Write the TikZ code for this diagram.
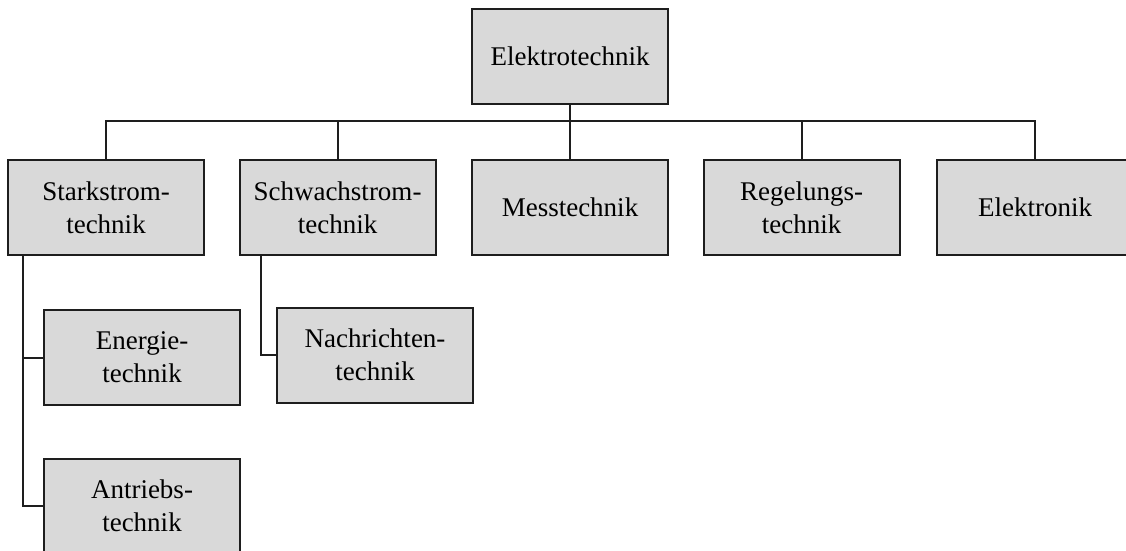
\documentclass[tikz,border=0pt]{standalone}
\usepackage{fontspec}
\setmainfont{Liberation Serif}
\definecolor{boxfill}{RGB}{217,217,217}
\definecolor{ink}{RGB}{30,30,30}
\begin{document}
\begin{tikzpicture}[x=1pt,y=-1pt,
  box/.style={draw=ink, line width=2pt, fill=boxfill, rectangle,
    minimum width=196pt, minimum height=95pt, inner sep=0pt,
    align=center, font=\fontsize{27}{33}\selectfont},
  link/.style={draw=ink, line width=2pt}]
\useasboundingbox (0,0) rectangle (1126,550);

% top level
\node[box] (et) at (570,56.5) {Elektrotechnik};

% second level
\node[box] (st) at (106,207.5) {Starkstrom-\\technik};
\node[box] (sw) at (337.5,207.5) {Schwachstrom-\\technik};
\node[box] (ms) at (570,207.5) {Messtechnik};
\node[box] (rg) at (801.5,207.5) {Regelungs-\\technik};
\node[box] (el) at (1035,207.5) {Elektronik};

% third level
\node[box] (en) at (142,357.5) {Energie-\\technik};
\node[box] (an) at (142,506) {Antriebs-\\technik};
\node[box] (na) at (375,355) {Nachrichten-\\technik};

% bus line under the root
\coordinate (bus) at (570,121);
\draw[link] (et.south) -- (bus);
\draw[link] (st.north) |- (bus) -| (el.north);
\draw[link] (sw.north) -- (sw.north |- bus);
\draw[link] (ms.north) -- (ms.north |- bus);
\draw[link] (rg.north) -- (rg.north |- bus);

% branches below
\coordinate (stdrop) at ([xshift=-83pt]st.south);
\draw[link] (stdrop) |- (an.west);
\draw[link] (stdrop) |- (en.west);
\coordinate (swdrop) at ([xshift=-76.5pt]sw.south);
\draw[link] (swdrop) |- (na.west);
\end{tikzpicture}
\end{document}
